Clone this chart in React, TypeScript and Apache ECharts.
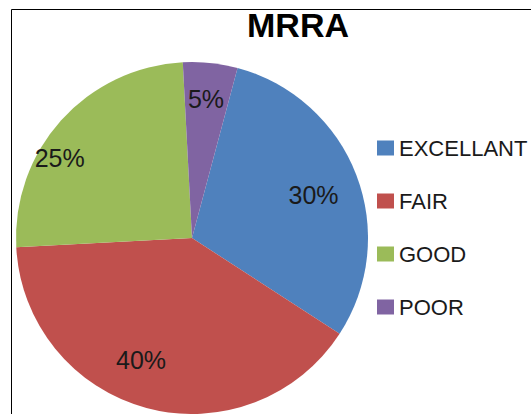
import React, { useEffect, useRef } from "react";
import * as echarts from "echarts";

const categories = ["EXCELLANT", "FAIR", "GOOD", "POOR"];
const values = [30, 40, 25, 5];
const colors = ["#4F81BD", "#C0504D", "#9BBB59", "#8064A2"];
const titleText = "MRRA";

// small nudges of the in-slice labels, mimicking the original's label placement
const labelNudge = [
  [-12, 8],
  [-14, -16],
  [-26, 16],
  [-1, 3],
];

export default function App() {
  const ref = useRef<HTMLDivElement>(null);
  useEffect(() => {
    if (!ref.current) return;
    const chart = echarts.init(ref.current, null, { renderer: "svg" });
    const data = categories.map((name, i) => ({
      name,
      value: values[i],
      itemStyle: { color: colors[i] },
    }));
    chart.setOption({
      animation: false,
      backgroundColor: "#ffffff",
      title: {
        text: titleText,
        left: 298,
        top: 8,
        textAlign: "center",
        padding: 0,
        textStyle: {
          fontFamily: "Liberation Sans",
          fontWeight: "bold",
          fontSize: 34,
          color: "#000000",
        },
      },
      graphic: [
        {
          type: "rect",
          shape: { x: 11.5, y: 9.5, width: 700, height: 700 },
          style: { fill: "none", stroke: "#000000", lineWidth: 1 },
          silent: true,
          z: 100,
        },
      ],
      legend: {
        orient: "vertical",
        left: 377,
        top: 137,
        padding: 0,
        itemWidth: 17,
        itemHeight: 15,
        itemGap: 31,
        icon: "rect",
        data: categories,
        textStyle: {
          fontFamily: "Liberation Sans",
          fontSize: 22,
          lineHeight: 22,
          color: "#1a1a1a",
        },
      },
      series: [
        {
          type: "pie",
          center: [192, 238],
          radius: [0, 176],
          startAngle: 75,
          clockwise: true,
          label: { show: false },
          labelLine: { show: false },
          emphasis: { disabled: true },
          data,
        },
        {
          type: "pie",
          center: [192, 238],
          radius: [104, 176],
          startAngle: 75,
          clockwise: true,
          silent: true,
          itemStyle: { color: "transparent" },
          label: {
            show: true,
            position: "inside",
            formatter: "{d}%",
            fontFamily: "Liberation Sans",
            fontSize: 25,
            color: "#1a1a1a",
          },
          labelLayout: (params: any) => {
            const n = labelNudge[params.dataIndex] || [0, 0];
            return { dx: n[0], dy: n[1] };
          },
          labelLine: { show: false },
          emphasis: { disabled: true },
          data: categories.map((name, i) => ({
            name,
            value: values[i],
            itemStyle: { color: "transparent" },
          })),
          legendHoverLink: false,
        },
      ],
    });
    return () => chart.dispose();
  }, []);
  return (
    <div
      ref={ref}
      style={{ position: "fixed", left: 0, top: 0, width: 531, height: 414 }}
    />
  );
}
